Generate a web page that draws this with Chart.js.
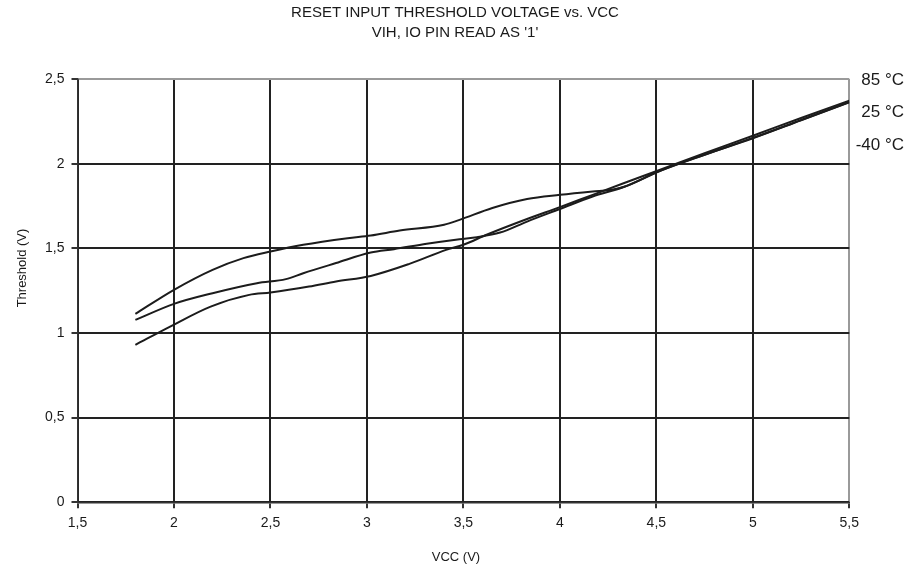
<!DOCTYPE html>
<html>
<head>
<meta charset="utf-8">
<script src="https://cdn.jsdelivr.net/npm/chart.js@4.4.1/dist/chart.umd.min.js"></script>
<style>
  html, body { margin: 0; padding: 0; background: #ffffff; }
  #wrap { width: 908px; height: 575px; position: relative; }
</style>
</head>
<body>
<div id="wrap"><canvas id="c" width="908" height="575"></canvas></div>
<script>
// ---- Data ----
const titleLines = ["RESET INPUT THRESHOLD VOLTAGE vs. VCC", "VIH, IO PIN READ AS '1'"];
const xAxisTitle = "VCC (V)";
const yAxisTitle = "Threshold (V)";
const xTickValues = [1.5, 2, 2.5, 3, 3.5, 4, 4.5, 5, 5.5];
const xTickLabels = ["1,5", "2", "2,5", "3", "3,5", "4", "4,5", "5", "5,5"];
const yTickValues = [0, 0.5, 1, 1.5, 2, 2.5];
const yTickLabels = ["0", "0,5", "1", "1,5", "2", "2,5"];
const seriesLabels = ["85 °C", "25 °C", "-40 °C"];

// 85 °C (lowest at low VCC)
const vcc85 = [1.8, 1.98, 2.19, 2.39, 2.5, 2.7, 2.84, 3.02, 3.22, 3.41, 3.5, 3.62, 3.83, 4.0, 4.17, 4.33, 4.52, 4.75, 5.0, 5.25, 5.5];
const thr85 = [0.93, 1.038, 1.156, 1.225, 1.239, 1.274, 1.304, 1.337, 1.408, 1.491, 1.521, 1.58, 1.673, 1.743, 1.816, 1.884, 1.964, 2.062, 2.165, 2.27, 2.372];
// 25 °C (middle at low VCC)
const vcc25 = [1.8, 2.0, 2.2, 2.43, 2.58, 2.67, 2.84, 3.02, 3.14, 3.31, 3.48, 3.57, 3.69, 3.83, 4.0, 4.17, 4.33, 4.52, 4.75, 5.0, 5.25, 5.5];
const thr25 = [1.077, 1.172, 1.235, 1.294, 1.318, 1.353, 1.413, 1.475, 1.495, 1.527, 1.554, 1.566, 1.593, 1.658, 1.732, 1.806, 1.862, 1.958, 2.053, 2.152, 2.258, 2.364];
// -40 °C (highest at low VCC)
const vccM40 = [1.8, 2.0, 2.2, 2.36, 2.5, 2.67, 2.9, 3.02, 3.17, 3.4, 3.48, 3.65, 3.83, 4.0, 4.17, 4.26, 4.33, 4.52, 4.75, 5.0, 5.25, 5.5];
const thrM40 = [1.113, 1.255, 1.373, 1.442, 1.481, 1.521, 1.56, 1.576, 1.605, 1.639, 1.668, 1.738, 1.791, 1.816, 1.836, 1.845, 1.862, 1.958, 2.053, 2.15, 2.256, 2.362];

function pts(xs, ys) { return xs.map((x, i) => ({ x: x, y: ys[i] })); }

const FONT = "'Liberation Sans', Arial, Helvetica, sans-serif";
const INK = '#1c1c1c';

const textPlugin = {
  id: 'texts',
  afterDraw(chart) {
    const ctx = chart.ctx;
    ctx.save();
    ctx.fillStyle = '#1a1a1a';
    ctx.textAlign = 'center';
    ctx.textBaseline = 'middle';
    ctx.font = '15px ' + FONT;
    ctx.fillText(titleLines[0], 455, 13);
    ctx.fillText(titleLines[1], 455, 33);
    // y axis title
    ctx.save();
    ctx.translate(22, 268);
    ctx.rotate(-Math.PI / 2);
    ctx.font = '13px ' + FONT;
    ctx.fillText(yAxisTitle, 0, 0);
    ctx.restore();
    // x axis title
    ctx.font = '13px ' + FONT;
    ctx.fillText(xAxisTitle, 456, 557);
    // series labels at right
    ctx.textAlign = 'right';
    ctx.font = '17px ' + FONT;
    const ys = [80, 112, 145];
    seriesLabels.forEach((s, i) => ctx.fillText(s, 904, ys[i]));
    ctx.restore();
  }
};

const lineStyle = {
  borderColor: INK,
  borderWidth: 2,
  pointRadius: 0,
  fill: false,
  cubicInterpolationMode: 'monotone'
};

new Chart(document.getElementById('c'), {
  type: 'line',
  data: {
    datasets: [
      Object.assign({ label: seriesLabels[0], data: pts(vcc85, thr85) }, lineStyle),
      Object.assign({ label: seriesLabels[1], data: pts(vcc25, thr25) }, lineStyle),
      Object.assign({ label: seriesLabels[2], data: pts(vccM40, thrM40) }, lineStyle)
    ]
  },
  options: {
    responsive: false,
    animation: false,
    devicePixelRatio: 1,
    layout: { padding: { top: 79, right: 58.7, left: 0, bottom: 0 } },
    plugins: { legend: { display: false }, title: { display: false }, tooltip: { enabled: false } },
    scales: {
      x: {
        type: 'linear',
        min: 1.5, max: 5.5,
        afterBuildTicks(scale) { scale.ticks = xTickValues.map(v => ({ value: v })); },
        afterFit(scale) { scale.height = 72.7; },
        ticks: {
          color: '#1a1a1a',
          font: { family: FONT, size: 14 },
          padding: 6,
          maxRotation: 0,
          autoSkip: false,
          callback: (v) => { const i = xTickValues.indexOf(v); return i >= 0 ? xTickLabels[i] : ''; }
        },
        grid: {
          color: (c) => (c.tick && c.tick.value === 5.5) ? '#9a9a9a' : '#222222',
          lineWidth: 2,
          tickColor: '#333333',
          tickLength: 6,
          drawTicks: true
        },
        border: { display: true, color: '#333333', width: 1.5 },
        title: { display: false }
      },
      y: {
        type: 'linear',
        min: 0, max: 2.5,
        afterBuildTicks(scale) { scale.ticks = yTickValues.map(v => ({ value: v })); },
        afterFit(scale) { scale.width = 77.5; },
        ticks: {
          color: '#1a1a1a',
          font: { family: FONT, size: 14 },
          padding: 7,
          autoSkip: false,
          callback: (v) => { const i = yTickValues.indexOf(v); return i >= 0 ? yTickLabels[i] : ''; }
        },
        grid: {
          color: (c) => (c.tick && c.tick.value === 2.5) ? '#9a9a9a' : '#222222',
          lineWidth: 2,
          tickColor: '#333333',
          tickLength: 6,
          drawTicks: true
        },
        border: { display: true, color: '#333333', width: 1.5 },
        title: { display: false }
      }
    }
  },
  plugins: [textPlugin]
});
</script>
</body>
</html>
